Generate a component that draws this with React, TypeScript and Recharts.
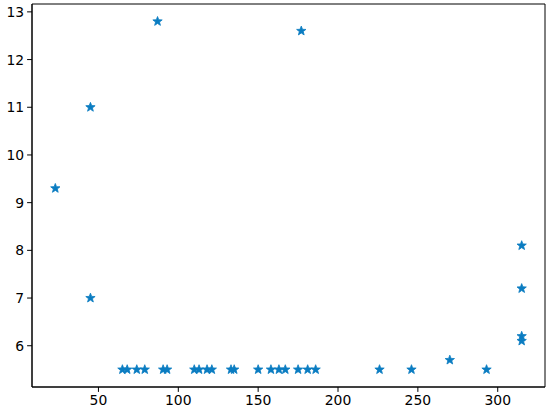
import { ScatterChart, Scatter, XAxis, YAxis, ReferenceArea } from "recharts"

// points
const xValues = [
  23, 45, 45, 87, 177,
  65, 68, 74, 79, 90.5, 93, 110, 113, 118, 121, 133, 135,
  150, 158, 163, 167, 175, 181, 186, 226, 246, 270, 293,
  315, 315, 315, 315,
]
const yValues = [
  9.3, 11, 7, 12.8, 12.6,
  5.5, 5.5, 5.5, 5.5, 5.5, 5.5, 5.5, 5.5, 5.5, 5.5, 5.5, 5.5,
  5.5, 5.5, 5.5, 5.5, 5.5, 5.5, 5.5, 5.5, 5.5, 5.7, 5.5,
  8.1, 7.2, 6.2, 6.1,
]
const xTicks = [50, 100, 150, 200, 250, 300]
const yTicks = [6, 7, 8, 9, 10, 11, 12, 13]
const xDomain = [8.4, 329.6]
const yDomain = [5.135, 13.165]

const data = xValues.map((x, i) => ({ x, y: yValues[i] }))

const COLOR = "#0a7cc1"

// 5-point star like matplotlib's "*" marker
function Star(props: any) {
  const { cx, cy } = props
  const outer = 4.9
  const inner = outer * 0.42
  const pts: string[] = []
  for (let i = 0; i < 10; i++) {
    const r = i % 2 === 0 ? outer : inner
    const a = -Math.PI / 2 + (i * Math.PI) / 5
    pts.push(`${cx + r * Math.cos(a)},${cy + r * Math.sin(a)}`)
  }
  return <polygon points={pts.join(" ")} fill={COLOR} stroke={COLOR} strokeWidth={0.8} strokeLinejoin="round" />
}

const tickStyle = { fill: "#000", fontSize: 13.9, fontFamily: "DejaVu Sans" }

export default function App() {
  return (
    <div style={{ width: 550, height: 414 }}>
      <style>{`body{margin:0}`}</style>
      <ScatterChart width={550} height={414} margin={{ top: 4, right: 5, bottom: 0, left: 0 }}>
        <XAxis
          type="number"
          dataKey="x"
          domain={xDomain}
          ticks={xTicks}
          allowDataOverflow
          height={27}
          stroke="#000"
          tick={tickStyle}
          tickSize={4.9}
          tickMargin={3}
        />
        <YAxis
          type="number"
          dataKey="y"
          domain={yDomain}
          ticks={yTicks}
          allowDataOverflow
          width={32}
          stroke="#000"
          tick={tickStyle}
          tickSize={4.9}
          tickMargin={3}
        />
        {/* frame around the plot area */}
        <ReferenceArea
          x1={xDomain[0]}
          x2={xDomain[1]}
          y1={yDomain[0]}
          y2={yDomain[1]}
          fill="none"
          stroke="#000"
          strokeWidth={1}
          ifOverflow="visible"
        />
        <Scatter data={data} shape={<Star />} isAnimationActive={false} />
      </ScatterChart>
    </div>
  )
}
